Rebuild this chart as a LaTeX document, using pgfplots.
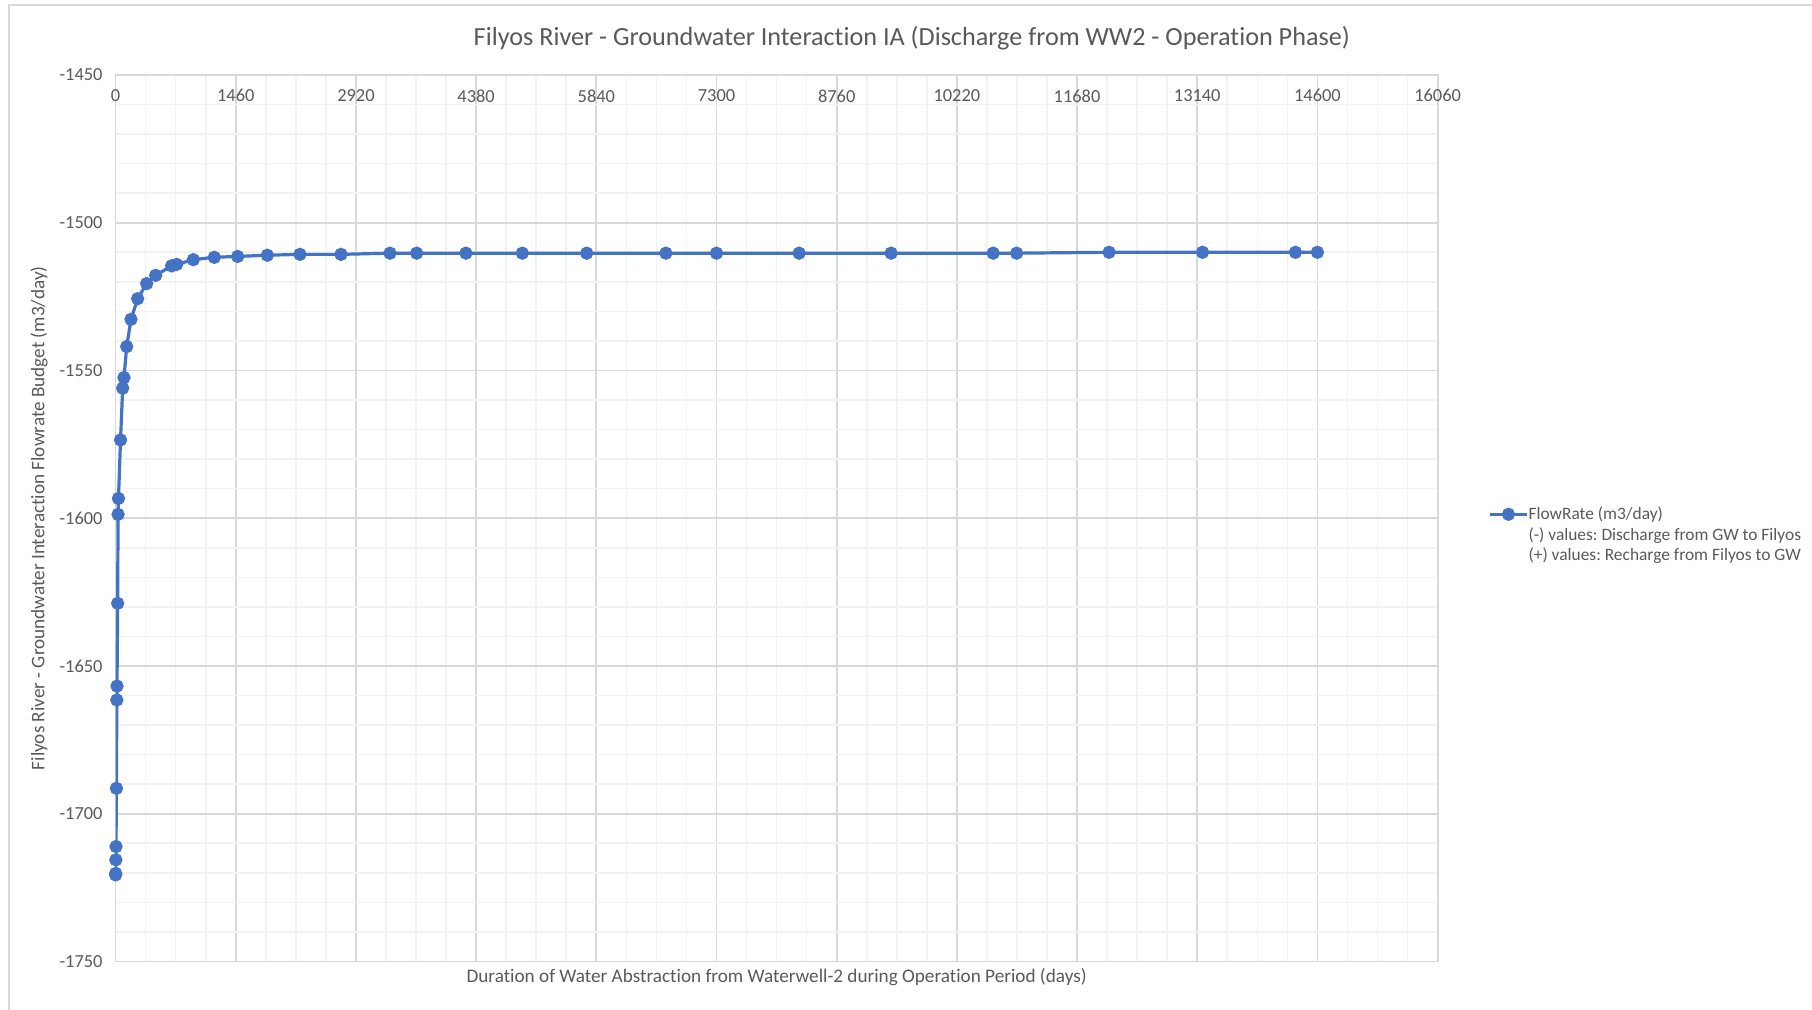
\documentclass[border=0pt]{standalone}
\usepackage{pgfplots}
\pgfplotsset{compat=1.18}
\usepackage{fontspec}
\setmainfont{Carlito}[Ligatures=NoCommon]
\frenchspacing
\definecolor{txt}{HTML}{595959}
\definecolor{majgrid}{HTML}{D9D9D9}
\definecolor{mingrid}{HTML}{F2F2F2}
\definecolor{xlblue}{HTML}{4472C4}
\begin{document}
\begin{tikzpicture}
\path[use as bounding box] (0,0) rectangle (906pt,505pt);
\draw[majgrid, line width=1pt] (4.5pt,0pt) -- (4.5pt,502.5pt) -- (906pt,502.5pt);
\node[text=txt, font=\fontsize{13.1}{15}\selectfont] at (455.9pt,486pt) {Filyos River - Groundwater Interaction IA (Discharge from WW2 - Operation Phase)};
\begin{axis}[
  at={(57.8pt,24.25pt)}, anchor=south west,
  scale only axis, width=661pt, height=443.25pt,
  xmin=0, xmax=16060, ymin=-1750, ymax=-1450,
  xtick={0,1460,...,16060},
  ytick={-1750,-1700,...,-1450},
  minor xtick={0,365,...,16060},
  minor ytick={-1750,-1740,...,-1450},
  scaled x ticks=false, scaled y ticks=false,
  grid=both,
  major grid style={majgrid, line width=0.9pt},
  minor grid style={mingrid, line width=0.8pt},
  axis line style={majgrid, line width=0.9pt},
  major tick length=0pt, minor tick length=0pt,
  xticklabel pos=upper,
  xticklabel style={anchor=center, yshift=-10.4pt},
  yticklabel style={xshift=-3pt},
  /pgf/number format/1000 sep={},
  /pgf/number format/fixed,
  /pgf/number format/precision=0,
  /pgf/number format/assume math mode=true,
  tick label style={text=txt, font=\fontsize{9.2}{10}\selectfont},
  xlabel={Duration of Water Abstraction from Waterwell-2 during Operation Period (days)},
  ylabel={Filyos River - Groundwater Interaction Flowrate Budget (m3/day)},
  every axis y label/.style={at={(ticklabel cs:0.5)}, rotate=90, anchor=center, yshift=7pt, text=txt, font=\fontsize{9.6}{10}\selectfont},
  every axis x label/.style={at={(0.5,0)}, anchor=center, yshift=-8pt, text=txt, font=\fontsize{9.6}{10}\selectfont},
  legend style={at={(1.0381,0.481)}, anchor=west, draw=none, fill=none,
    font=\fontsize{8.7}{10}\selectfont, text=txt, row sep=1.4pt,
    legend cell align=left, inner sep=0pt,
    nodes={inner sep=0pt, outer sep=0pt, text height=7pt, text depth=2pt}},
  legend image code/.code={\draw[#1, mark repeat=2, mark phase=2] plot coordinates {(0pt,0pt) (9.25pt,0pt) (18.5pt,0pt)};},
]
\addplot[xlblue, line width=1.6pt, mark=*, mark size=2.5pt, mark options={fill=xlblue, draw=xlblue}] coordinates {
(0,-1720.7) (1,-1720.2) (3,-1715.6) (5,-1711.1) (10,-1691.4) (15,-1661.5) (17,-1656.8) (25,-1628.8) (30,-1598.7) (35,-1593.3) (60,-1573.5) (86,-1556.0) (102,-1552.4) (135,-1541.9) (187,-1532.7) (268,-1525.7) (377,-1520.6) (487,-1517.8) (681,-1514.6) (742,-1514.1) (944,-1512.5) (1199,-1511.7) (1483,-1511.4) (1843,-1511.0) (2240,-1510.7) (2738,-1510.7) (3333,-1510.3) (3657,-1510.3) (4256,-1510.3) (4941,-1510.3) (5723,-1510.3) (6685,-1510.3) (7300,-1510.3) (8304,-1510.3) (9421,-1510.3) (10661,-1510.3) (10946,-1510.3) (12069,-1510.0) (13204,-1510.0) (14333,-1510.0) (14600,-1510.0)
};
\addlegendentry{FlowRate (m3/day)}
\addlegendimage{white, opacity=0, mark=none}
\addlegendentry{(-) values: Discharge from GW to Filyos}
\addlegendimage{white, opacity=0, mark=none}
\addlegendentry{(+) values: Recharge from Filyos to GW}
\end{axis}
\end{tikzpicture}
\end{document}
